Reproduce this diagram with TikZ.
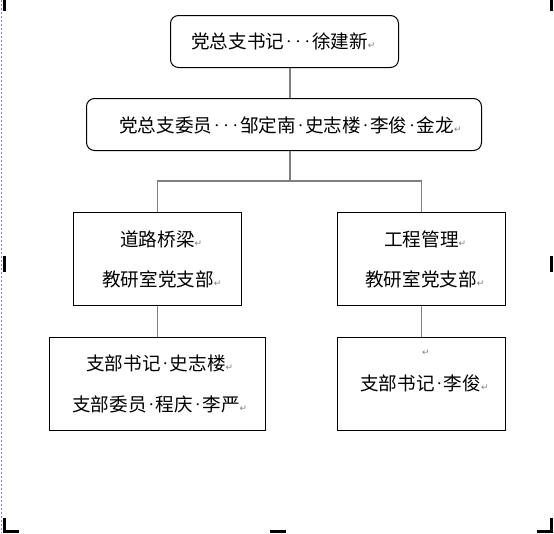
\documentclass[tikz,border=0pt]{standalone}
\usepackage{fontspec}
\newfontfamily\cjk{Noto Sans CJK SC}
\newfontfamily\dejavu{DejaVu Sans}
\newcommand\dt{\makebox[0.5em]{\raisebox{3pt}{\fontsize{10}{10}\selectfont ·}}}
\newcommand\rt{\textcolor{gray}{\dejavu\fontsize{9}{9}\selectfont ↵}}
\begin{document}
\begin{tikzpicture}[x=1pt,y=-1pt,
  box/.style={draw=black,line width=1pt,inner sep=0pt,anchor=north west},
  rbox/.style={box,rounded corners=8pt},
  conn/.style={draw=gray,line width=1.6pt},
  txt/.style={font=\cjk\fontsize{18.6}{18.6}\selectfont,inner sep=0pt,anchor=west},
  handle/.style={fill=black},
  frameline/.style={draw=blue!40!gray!70,dash pattern=on 2pt off 2pt,line width=0.8pt}]
\useasboundingbox (0,0) rectangle (554,533);
\fill[white] (0,0) rectangle (554,533);
% boxes
\node[rbox,minimum width=228pt,minimum height=52pt] (sec) at (170,15) {};
\node[rbox,minimum width=395pt,minimum height=52pt] (com) at (86,98) {};
\node[box,minimum width=168pt,minimum height=93pt] (mdl) at (73,212) {};
\node[box,minimum width=168pt,minimum height=93pt] (mdr) at (337,212) {};
\node[box,minimum width=216pt,minimum height=93pt] (bl) at (49,337) {};
\node[box,minimum width=168pt,minimum height=93pt] (br) at (337,337) {};
% texts
\node[txt] (t1) at (191,41) {党总支书记\dt\dt\dt 徐建新\rt};
\node[txt] (t2) at (119,125) {党总支委员\dt\dt\dt 邹定南\dt 史志楼\dt 李俊\dt 金龙\rt};
\node[txt] (t3) at (120,239) {道路桥梁\rt};
\node[txt] (t4) at (102,279) {教研室党支部\rt};
\node[txt] (t5) at (384,239) {工程管理\rt};
\node[txt] (t6) at (365,279) {教研室党支部\rt};
\node[txt] (t7) at (86,363) {支部书记\dt 史志楼\rt};
\node[txt] (t8) at (72,404) {支部委员\dt 程庆\dt 李严\rt};
\node[txt] (t9) at (422,353) {\rt};
\node[txt] (t10) at (360,383) {支部书记\dt 李俊\rt};
% connectors
\coordinate (jx) at (290,0);
\coordinate (bus) at (290,181);
\draw[conn] (sec.south -| jx) -- (com.north -| jx);
\draw[conn] (com.south -| jx) -- (bus);
\draw[conn] (mdl.north) |- (bus) -| (mdr.north);
\draw[conn] (mdl.south) -- (bl.north);
\draw[conn] (mdr.south) -- (br.north);
% canvas frame and handles
\draw[frameline] (1,0) -- (1,533);
\fill[handle] (3,0) rectangle (6,11);
\fill[handle] (550,0) rectangle (553,11);
\fill[handle] (3,256) rectangle (6,272);
\fill[handle] (550,256) rectangle (553,272);
\fill[handle] (3,518) rectangle (6,533);
\fill[handle] (3,530) rectangle (19,533);
\fill[handle] (550,518) rectangle (553,533);
\fill[handle] (537,530) rectangle (553,533);
\fill[handle] (270,530) rectangle (286,533);
\end{tikzpicture}
\end{document}
